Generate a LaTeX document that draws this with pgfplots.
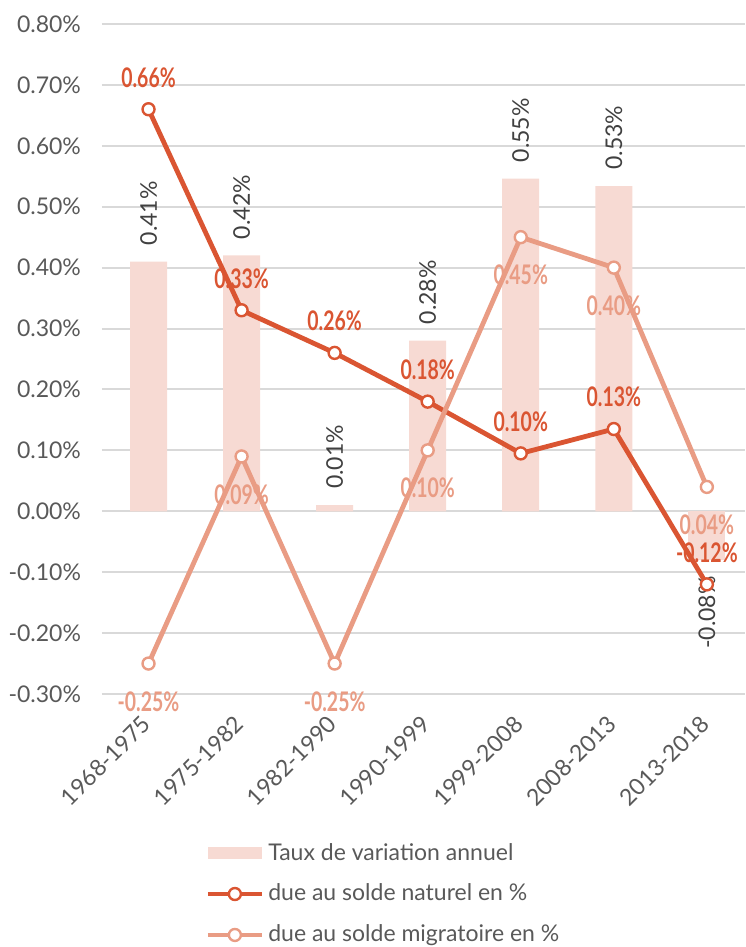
\documentclass[border=0pt]{standalone}
\usepackage{pgfplots}
\pgfplotsset{compat=1.18}
\usepackage{fontspec}
\setmainfont{Lato}
\newfontfamily\condfont[FakeStretch=0.72]{Lato}
\definecolor{barc}{HTML}{F7DAD3}
\definecolor{natc}{HTML}{DA5532}
\definecolor{migc}{HTML}{E99C84}
\definecolor{gridc}{HTML}{D9D9D9}
\definecolor{tickc}{HTML}{595959}
\definecolor{labc}{HTML}{404040}
\pgfplotsset{
  lineleg/.style={legend image code/.code={\draw[mark repeat=2,mark phase=2,##1] plot coordinates {(0pt,0pt) (13.5pt,0pt) (27pt,0pt)};}},
  barleg/.style={legend image code/.code={\fill[barc] (0pt,-3pt) rectangle (27pt,3pt);}},
}
\begin{document}
\begin{tikzpicture}
\useasboundingbox (0,0) rectangle (372.5pt,473.5pt);
\begin{axis}[
  at={(51pt,126.5pt)}, anchor=south west,
  width=321.5pt, height=335pt, scale only axis,
  xmin=-0.5, xmax=6.41, ymin=-0.3, ymax=0.8,
  xtick={0,1,2,3,4,5,6},
  xticklabels={1968-1975,1975-1982,1982-1990,1990-1999,1999-2008,2008-2013,2013-2018},
  ytick={-0.3,-0.2,-0.1,0,0.1,0.2,0.3,0.4,0.5,0.6,0.7,0.8},
  yticklabel={\pgfmathprintnumber[fixed,fixed zerofill,precision=2]{\tick}\%},
  /pgf/number format/assume math mode=true,
  ymajorgrids, grid style={gridc, line width=1pt},
  axis line style={draw=none}, major tick length=0pt,
  tick label style={font=\fontsize{11.5}{13}\selectfont, text=tickc},
  xticklabel style={xshift=-4pt, yshift=-5pt, rotate=45, anchor=north east},
  yticklabel style={xshift=-7pt},
  clip=false,
  legend style={at={(0.151,-0.21)}, anchor=north west, draw=none, fill=none,
    font=\fontsize{11.5}{13}\selectfont, text=tickc, row sep=6.5pt},
  legend cell align=left,
]
\addplot[ybar, bar width=18.5pt, bar shift=0pt, fill=barc, draw=none,
  nodes near coords={\pgfmathprintnumber[fixed,fixed zerofill,precision=2]{\pgfplotspointmeta}\%},
  every node near coord/.append style={rotate=90, anchor=west, inner xsep=8pt,
    font=\fontsize{11.5}{13}\selectfont, text=labc},
  barleg
] coordinates {(0,0.41) (1,0.42) (2,0.01) (3,0.28) (4,0.546) (5,0.534)};
\addlegendentry{Taux de variation annuel}
\addplot[ybar, bar width=18.5pt, bar shift=0pt, fill=barc, draw=none, forget plot,
  nodes near coords={\pgfmathprintnumber[fixed,fixed zerofill,precision=2]{\pgfplotspointmeta}\%},
  every node near coord/.append style={rotate=90, anchor=east, inner xsep=8pt,
    font=\fontsize{11.5}{13}\selectfont, text=labc}
] coordinates {(6,-0.08)};
\addplot[natc, line width=2.4pt, mark=*, mark size=3pt,
  mark options={fill=white, draw=natc, line width=1.2pt},
  point meta=explicit symbolic,
  nodes near coords={\pgfplotspointmeta\%},
  every node near coord/.append style={anchor=south, yshift=7pt,
    font=\condfont\bfseries\fontsize{13.5}{14}\selectfont, text=natc},
  lineleg
] table[meta=label] {
x y label
0 0.66 0.66
1 0.33 0.33
2 0.26 0.26
3 0.18 0.18
4 0.095 0.10
5 0.135 0.13
6 -0.12 -0.12
};
\addlegendentry{due au solde naturel en \%}
\addplot[migc, line width=2.4pt, mark=*, mark size=3pt,
  mark options={fill=white, draw=migc, line width=1.2pt},
  point meta=explicit symbolic,
  nodes near coords={\pgfplotspointmeta\%},
  every node near coord/.append style={anchor=north, yshift=-10pt,
    font=\condfont\bfseries\fontsize{13.5}{14}\selectfont, text=migc},
  lineleg
] table[meta=label] {
x y label
0 -0.25 -0.25
1 0.09 0.09
2 -0.25 -0.25
3 0.10 0.10
4 0.45 0.45
5 0.40 0.40
6 0.04 0.04
};
\addlegendentry{due au solde migratoire en \%}
\end{axis}
\end{tikzpicture}
\end{document}
